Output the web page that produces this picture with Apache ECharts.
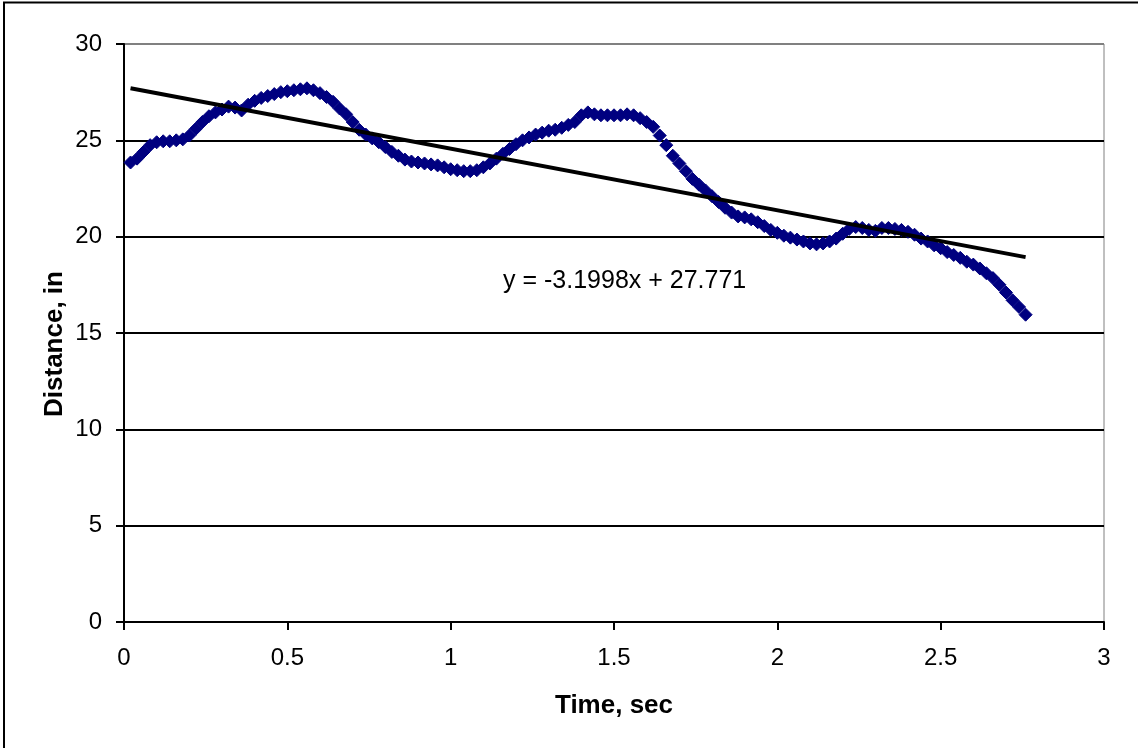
<!DOCTYPE html>
<html>
<head>
<meta charset="utf-8">
<script src="https://cdn.jsdelivr.net/npm/echarts@6/dist/echarts.min.js"></script>
<style>
  html, body { margin: 0; padding: 0; background: #fff; }
  #chart { width: 1138px; height: 748px; }
</style>
</head>
<body>
<div id="chart"></div>
<script>
// Sample times (s), every 0.02 s
const times = [
  0.02, 0.04, 0.06, 0.08, 0.10, 0.12, 0.14, 0.16, 0.18, 0.20,
  0.22, 0.24, 0.26, 0.28, 0.30, 0.32, 0.34, 0.36, 0.38, 0.40,
  0.42, 0.44, 0.46, 0.48, 0.50, 0.52, 0.54, 0.56, 0.58, 0.60,
  0.62, 0.64, 0.66, 0.68, 0.70, 0.72, 0.74, 0.76, 0.78, 0.80,
  0.82, 0.84, 0.86, 0.88, 0.90, 0.92, 0.94, 0.96, 0.98, 1.00,
  1.02, 1.04, 1.06, 1.08, 1.10, 1.12, 1.14, 1.16, 1.18, 1.20,
  1.22, 1.24, 1.26, 1.28, 1.30, 1.32, 1.34, 1.36, 1.38, 1.40,
  1.42, 1.44, 1.46, 1.48, 1.50, 1.52, 1.54, 1.56, 1.58, 1.60,
  1.62, 1.64, 1.66, 1.68, 1.70, 1.72, 1.74, 1.76, 1.78, 1.80,
  1.82, 1.84, 1.86, 1.88, 1.90, 1.92, 1.94, 1.96, 1.98, 2.00,
  2.02, 2.04, 2.06, 2.08, 2.10, 2.12, 2.14, 2.16, 2.18, 2.20,
  2.22, 2.24, 2.26, 2.28, 2.30, 2.32, 2.34, 2.36, 2.38, 2.40,
  2.42, 2.44, 2.46, 2.48, 2.50, 2.52, 2.54, 2.56, 2.58, 2.60,
  2.62, 2.64, 2.66, 2.68, 2.70, 2.72, 2.74, 2.76
];

// Measured distance (in) at each sample time
const distances = [
  23.85, 24.05, 24.40, 24.75, 24.90, 24.95, 24.95, 25.00, 25.05, 25.25,
  25.60, 25.95, 26.25, 26.45, 26.60, 26.75, 26.70, 26.55, 26.85, 27.05,
  27.20, 27.30, 27.40, 27.50, 27.55, 27.60, 27.65, 27.70, 27.60, 27.45,
  27.25, 27.00, 26.65, 26.35, 25.95, 25.55, 25.30, 25.10, 24.90, 24.65,
  24.40, 24.20, 24.00, 23.90, 23.85, 23.80, 23.75, 23.70, 23.60, 23.50,
  23.45, 23.40, 23.40, 23.45, 23.60, 23.80, 24.05, 24.30, 24.55, 24.80,
  25.00, 25.15, 25.30, 25.40, 25.50, 25.55, 25.65, 25.80, 25.95, 26.30,
  26.45, 26.35, 26.30, 26.30, 26.30, 26.30, 26.35, 26.30, 26.15, 25.95,
  25.70, 25.25, 24.75, 24.20, 23.80, 23.40, 23.00, 22.70, 22.40, 22.10,
  21.80, 21.50, 21.25, 21.05, 21.00, 20.90, 20.75, 20.55, 20.35, 20.20,
  20.05, 19.95, 19.85, 19.75, 19.65, 19.60, 19.65, 19.75, 19.90, 20.15,
  20.40, 20.50, 20.45, 20.35, 20.30, 20.45, 20.45, 20.40, 20.35, 20.25,
  20.10, 19.90, 19.75, 19.55, 19.40, 19.20, 19.05, 18.90, 18.70, 18.55,
  18.35, 18.10, 17.85, 17.50, 17.10, 16.70, 16.35, 15.95
];

// Linear trend fit
const trendSlope = -3.1998;
const trendIntercept = 27.771;

// Axis ticks
const xTicks = [0, 0.5, 1, 1.5, 2, 2.5, 3];
const yTicks = [0, 5, 10, 15, 20, 25, 30];

const points = times.map((t, i) => [t, distances[i]]);
const tStart = times[0];
const tEnd = times[times.length - 1];
const trendPoints = [
  [tStart, trendSlope * tStart + trendIntercept],
  [tEnd, trendSlope * tEnd + trendIntercept]
];
const trendText = 'y = ' + trendSlope.toFixed(4) + 'x + ' + trendIntercept.toFixed(3);

const FONT = '"Liberation Sans", Arial, sans-serif';

const chart = echarts.init(document.getElementById('chart'), null, { renderer: 'canvas' });

chart.setOption({
  animation: false,
  backgroundColor: '#ffffff',
  grid: {
    left: 124, right: 34, top: 44, bottom: 126,
    show: true, borderColor: '#808080', borderWidth: 1,
    backgroundColor: 'transparent'
  },
  xAxis: {
    type: 'value',
    min: xTicks[0], max: xTicks[xTicks.length - 1], interval: 0.5,
    name: 'Time, sec',
    nameLocation: 'middle',
    nameGap: 71,
    nameTextStyle: { fontFamily: FONT, fontSize: 26, fontWeight: 'bold', color: '#000' },
    axisLine: { show: true, onZero: false, lineStyle: { color: '#000', width: 2 } },
    axisTick: { show: true, inside: false, length: 8, lineStyle: { color: '#000', width: 2 } },
    axisLabel: {
      fontFamily: FONT, fontSize: 24, color: '#000', margin: 24,
      formatter: v => String(v)
    },
    splitLine: { show: false }
  },
  yAxis: {
    type: 'value',
    min: yTicks[0], max: yTicks[yTicks.length - 1], interval: 5,
    axisLine: { show: true, onZero: false, lineStyle: { color: '#000', width: 2 } },
    axisTick: { show: true, inside: false, length: 8, lineStyle: { color: '#000', width: 2 } },
    axisLabel: { fontFamily: FONT, fontSize: 24, color: '#000', margin: 22 },
    splitLine: {
      show: true,
      lineStyle: {
        color: ['#000', '#000', '#000', '#000', '#000', '#000', '#808080'],
        width: 2
      }
    }
  },
  series: [
    {
      name: 'Distance',
      type: 'scatter',
      data: points,
      symbol: 'diamond',
      symbolSize: 13,
      itemStyle: { color: '#000080', opacity: 1, borderColor: '#000080', borderWidth: 1 },
      z: 3
    },
    {
      name: 'Linear trend',
      type: 'line',
      data: trendPoints,
      showSymbol: false,
      symbol: 'none',
      lineStyle: { color: '#000', width: 4 },
      z: 4
    }
  ],
  graphic: [
    {
      type: 'rect',
      shape: { x: 4, y: 2.5, width: 1150, height: 760 },
      style: { fill: 'none', stroke: '#000', lineWidth: 2 },
      silent: true
    },
    {
      // vertical axis title
      type: 'text',
      x: 55,
      y: 344,
      rotation: Math.PI / 2,
      style: {
        text: 'Distance, in',
        font: 'bold 26px ' + FONT,
        fill: '#000',
        align: 'center',
        verticalAlign: 'middle'
      },
      z: 10
    },
    {
      type: 'text',
      left: 503,
      top: 269,
      style: { text: trendText, font: '25px ' + FONT, fill: '#000' },
      z: 10
    }
  ]
});
</script>
</body>
</html>
